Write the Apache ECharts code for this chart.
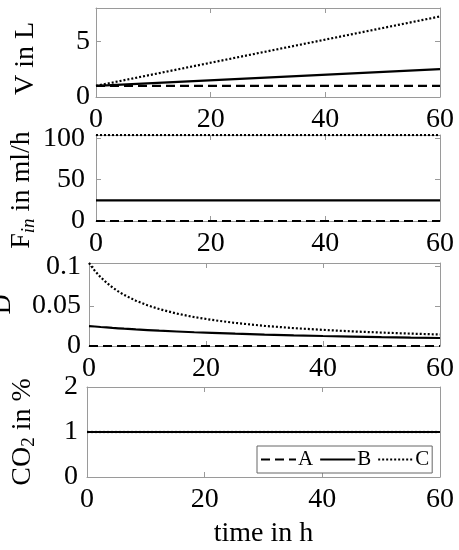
<!DOCTYPE html>
<html lang="en">
<head>
<meta charset="UTF-8">
<title>Feed profiles</title>
<script src="https://cdn.jsdelivr.net/npm/echarts@6/dist/echarts.min.js"></script>
<style>
  * { margin: 0; padding: 0 }
  html, body { width: 100%; height: 100%; background: #fff; }
  #main { width: 459px; height: 550px; }
</style>
</head>
<body>
<div id="main"></div>
<script>
// time points (h)
var tEnds = [0, 60];
var tD = [0, 1, 2, 3, 4, 5, 6, 8, 10, 12, 15, 18, 21, 25, 30, 35, 40, 45, 50, 55, 60];

// volume in L
var vA = [1, 1];
var vB = [1, 2.5];
var vC = [1, 7.24];

// feed in ml/h
var finA = [0, 0];
var finB = [25, 25];
var finC = [104, 104];

// dilution rate
var dA = [0, 0];
var dB = [0.025, 0.0244, 0.0238, 0.0233, 0.0227, 0.0222, 0.0217, 0.0208, 0.02, 0.0192, 0.0182,
          0.0172, 0.0164, 0.0154, 0.0143, 0.0133, 0.0125, 0.0118, 0.0111, 0.0105, 0.01];
var dC = [0.104, 0.0942, 0.0861, 0.0793, 0.0734, 0.0684, 0.064, 0.0568, 0.051, 0.0463, 0.0406,
          0.0362, 0.0327, 0.0289, 0.0252, 0.0224, 0.0202, 0.0183, 0.0168, 0.0155, 0.0144];

// CO2 in %
var co2A = [1, 1];
var co2B = [1, 1];
var co2C = [1, 1];

var panels = [
  { name: '{m|V in L}', ticks: [0, 5], max: 8, A: vA, B: vB, C: vC, tA: tEnds, tB: tEnds, tC: tEnds },
  { name: '{m|F}{sub|in}{m| in ml/h}', ticks: [0, 50, 100], max: 104, A: finA, B: finB, C: finC, tA: tEnds, tB: tEnds, tC: tEnds },
  { name: '{m|D}', ticks: [0, 0.05, 0.1], max: 0.104, A: dA, B: dB, C: dC, tA: tEnds, tB: tD, tC: tD },
  { name: '{m|CO}{sub2|2}{m| in %}', ticks: [0, 1, 2], max: 2, A: co2A, B: co2B, C: co2C, tA: tEnds, tB: tEnds, tC: tEnds }
];

// layout of the four axes boxes (px)
var boxes = [
  { left: 96, top: 8, height: 89, gap: 54, labelGap: 6, namePad: [0, 12, 0, 0] },
  { left: 96, top: 135, height: 86, gap: 58, labelGap: 11, namePad: [0, 24, 0, 0] },
  { left: 89, top: 263, height: 83, gap: 70, labelGap: 8, namePad: 0 },
  { left: 87, top: 387, height: 90, gap: 48, labelGap: 9, namePad: 0 }
];

var FONT = 'Liberation Serif';
var FRAME = '#9a9a9a';
var dash = { A: [9, 5], B: 'solid', C: [2, 2] };

function pairs(t, v) {
  return t.map(function (x, i) { return [x, v[i]]; });
}

var grid = [], xAxis = [], yAxis = [], series = [];
panels.forEach(function (p, i) {
  var b = boxes[i];
  grid.push({ left: b.left, right: 19, top: b.top, height: b.height, show: false, outerBoundsMode: 'none', containLabel: false });
  var tick = { show: true, inside: true, length: 5, lineStyle: { color: FRAME } };
  var line = { show: true, onZero: false, lineStyle: { color: FRAME, width: 1 } };
  xAxis.push({
    type: 'value', gridIndex: i, min: 0, max: 60, interval: 20, position: 'bottom',
    axisLine: line, axisTick: tick, splitLine: { show: false },
    axisLabel: { fontFamily: FONT, fontSize: 28, color: '#000', margin: 9 },
    name: i === 3 ? 'time in h' : '', nameLocation: 'middle', nameGap: 43, nameMoveOverlap: false,
    nameTextStyle: { fontFamily: FONT, fontSize: 28, color: '#000' }
  });
  xAxis.push({
    type: 'value', gridIndex: i, min: 0, max: 60, interval: 20, position: 'top',
    axisLine: line, axisTick: tick, splitLine: { show: false }, axisLabel: { show: false }
  });
  yAxis.push({
    type: 'value', gridIndex: i, min: 0, max: p.max, position: 'left',
    axisLine: line, splitLine: { show: false },
    axisTick: { show: true, inside: true, length: 5, lineStyle: { color: FRAME }, customValues: p.ticks },
    axisLabel: { fontFamily: FONT, fontSize: 28, color: '#000', margin: b.labelGap, customValues: p.ticks },
    name: p.name, nameLocation: 'middle', nameGap: b.gap, nameRotate: 90, nameMoveOverlap: false,
    nameTextStyle: {
      fontFamily: FONT, fontSize: 28, color: '#000', padding: b.namePad,
      rich: {
        m: { fontFamily: FONT, fontSize: 28, color: '#000', lineHeight: 30, verticalAlign: 'top' },
        sub: { fontFamily: FONT, fontSize: 19, fontStyle: 'italic', color: '#000', lineHeight: 20, verticalAlign: 'bottom' },
        sub2: { fontFamily: FONT, fontSize: 19, color: '#000', lineHeight: 20, verticalAlign: 'bottom' }
      }
    }
  });
  yAxis.push({
    type: 'value', gridIndex: i, min: 0, max: p.max, position: 'right',
    axisLine: line, splitLine: { show: false }, axisLabel: { show: false },
    axisTick: { show: true, inside: true, length: 5, lineStyle: { color: FRAME }, customValues: p.ticks }
  });
  ['A', 'B', 'C'].forEach(function (k) {
    series.push({
      name: k, type: 'line', xAxisIndex: 2 * i, yAxisIndex: 2 * i,
      data: pairs(p['t' + k], p[k]),
      symbol: 'none',
      itemStyle: { color: '#000' },
      lineStyle: { color: '#000', width: 2.2, type: dash[k] }
    });
  });
});

var myChart = echarts.init(document.getElementById('main'));
myChart.setOption({
  animation: false,
  backgroundColor: '#fff',
  grid: grid,
  xAxis: xAxis,
  yAxis: yAxis,
  legend: {
    data: ['A', 'B', 'C'],
    left: 257, top: 446,
    orient: 'horizontal',
    itemWidth: 35, itemHeight: 10, itemGap: 6,
    padding: [3, 3, 3, 3],
    borderColor: '#666', borderWidth: 1, borderRadius: 0,
    backgroundColor: '#fff',
    itemStyle: { opacity: 0 },
    textStyle: { fontFamily: FONT, fontSize: 21, color: '#000', padding: [0, 0, 0, -3] }
  },
  series: series
});
</script>
</body>
</html>
